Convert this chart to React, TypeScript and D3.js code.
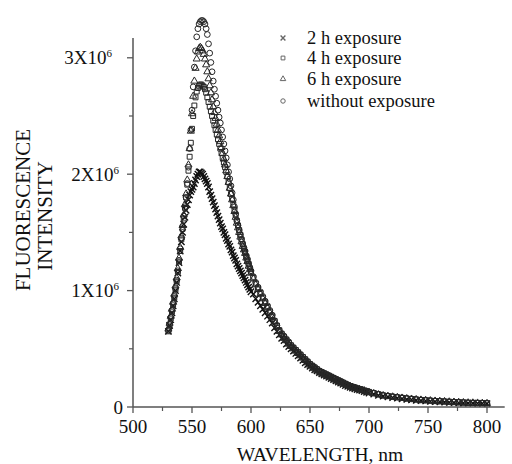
import React from "react";
import * as d3 from "d3";

// wavelength grid (nm): 1 nm steps to 600, 2 nm to 700, 4 nm to 800
const wavelengths: number[] = [
  ...d3.range(530, 601, 1),
  ...d3.range(602, 701, 2),
  ...d3.range(704, 801, 4),
];

// intensities in units of 10^6
const withoutExposure = [
  0.66, 0.71, 0.77, 0.83, 0.89, 0.95, 1.02, 1.09, 1.17, 1.26,
  1.36, 1.45, 1.55, 1.64, 1.72, 1.80, 1.92, 2.06, 2.22, 2.38,
  2.55, 2.75, 2.92, 3.06, 3.18, 3.25, 3.29, 3.31, 3.32, 3.32,
  3.31, 3.29, 3.25, 3.20, 3.12, 3.04, 2.96, 2.88, 2.80, 2.73,
  2.67, 2.61, 2.55, 2.49, 2.44, 2.38, 2.32, 2.26, 2.20, 2.14,
  2.08, 2.02, 1.96, 1.90, 1.84, 1.78, 1.72, 1.66, 1.60, 1.56,
  1.52, 1.48, 1.44, 1.40, 1.37, 1.34, 1.30, 1.27, 1.23, 1.20,
  1.17,
  1.12, 1.07, 1.03, 0.99, 0.95, 0.91, 0.87, 0.83, 0.79, 0.74,
  0.70, 0.66, 0.63, 0.61, 0.58, 0.56, 0.53, 0.51, 0.49, 0.47,
  0.45, 0.43, 0.41, 0.39, 0.37, 0.355, 0.34, 0.325, 0.31, 0.30,
  0.29, 0.28, 0.27, 0.26, 0.25, 0.24, 0.23, 0.22, 0.21, 0.20,
  0.19, 0.18, 0.175, 0.17, 0.16, 0.155, 0.15, 0.14, 0.135, 0.13,
  0.12, 0.11, 0.10, 0.095, 0.09, 0.085, 0.08, 0.075, 0.07, 0.065,
  0.06, 0.058, 0.055, 0.052, 0.05, 0.048, 0.045, 0.043, 0.04, 0.038,
  0.036, 0.035, 0.034, 0.033, 0.032,
];

const exposure6h = [
  0.67, 0.72, 0.78, 0.84, 0.90, 0.97, 1.04, 1.11, 1.19, 1.28,
  1.37, 1.47, 1.56, 1.65, 1.74, 1.83, 1.95, 2.08, 2.22, 2.37,
  2.52, 2.67, 2.80, 2.91, 2.99, 3.05, 3.08, 3.09, 3.08, 3.06,
  3.03, 2.99, 2.94, 2.88, 2.82, 2.76, 2.70, 2.64, 2.58, 2.53,
  2.48, 2.43, 2.38, 2.33, 2.28, 2.23, 2.18, 2.13, 2.08, 2.03,
  1.98, 1.93, 1.88, 1.83, 1.78, 1.73, 1.68, 1.63, 1.58, 1.54,
  1.50, 1.46, 1.42, 1.38, 1.35, 1.32, 1.28, 1.25, 1.21, 1.18,
  1.15,
  1.10, 1.05, 1.01, 0.97, 0.93, 0.89, 0.85, 0.81, 0.77, 0.73,
  0.69, 0.65, 0.62, 0.59, 0.57, 0.54, 0.52, 0.50, 0.48, 0.46,
  0.44, 0.42, 0.40, 0.38, 0.36, 0.345, 0.33, 0.315, 0.30, 0.29,
  0.28, 0.27, 0.26, 0.25, 0.24, 0.23, 0.22, 0.21, 0.20, 0.195,
  0.185, 0.175, 0.17, 0.16, 0.155, 0.15, 0.145, 0.14, 0.13, 0.125,
  0.115, 0.105, 0.098, 0.092, 0.087, 0.082, 0.077, 0.072, 0.068, 0.064,
  0.06, 0.057, 0.054, 0.051, 0.049, 0.047, 0.044, 0.042, 0.04, 0.038,
  0.036, 0.035, 0.034, 0.032, 0.031,
];

const exposure4h = [
  0.65, 0.70, 0.76, 0.82, 0.88, 0.94, 1.01, 1.08, 1.16, 1.25,
  1.34, 1.44, 1.53, 1.62, 1.71, 1.80, 1.91, 2.03, 2.15, 2.27,
  2.39, 2.50, 2.59, 2.66, 2.71, 2.74, 2.76, 2.77, 2.77, 2.76,
  2.75, 2.73, 2.70, 2.66, 2.62, 2.58, 2.54, 2.50, 2.46, 2.42,
  2.38, 2.34, 2.30, 2.26, 2.22, 2.18, 2.14, 2.10, 2.06, 2.02,
  1.98, 1.93, 1.88, 1.83, 1.79, 1.74, 1.69, 1.65, 1.60, 1.56,
  1.52, 1.48, 1.44, 1.40, 1.36, 1.33, 1.29, 1.26, 1.23, 1.19,
  1.16,
  1.11, 1.06, 1.02, 0.98, 0.94, 0.90, 0.86, 0.82, 0.78, 0.74,
  0.70, 0.66, 0.63, 0.60, 0.58, 0.55, 0.53, 0.51, 0.49, 0.47,
  0.45, 0.43, 0.41, 0.39, 0.37, 0.355, 0.34, 0.325, 0.31, 0.30,
  0.29, 0.28, 0.27, 0.26, 0.25, 0.24, 0.23, 0.22, 0.21, 0.20,
  0.19, 0.18, 0.17, 0.165, 0.16, 0.15, 0.145, 0.14, 0.135, 0.13,
  0.12, 0.11, 0.10, 0.094, 0.088, 0.083, 0.078, 0.073, 0.069, 0.065,
  0.061, 0.058, 0.055, 0.052, 0.05, 0.047, 0.045, 0.043, 0.041, 0.039,
  0.037, 0.036, 0.035, 0.034, 0.033,
];

const exposure2h = [
  0.65, 0.70, 0.75, 0.81, 0.87, 0.93, 1.00, 1.07, 1.15, 1.24,
  1.34, 1.42, 1.50, 1.57, 1.63, 1.69, 1.74, 1.78, 1.82, 1.85,
  1.87, 1.89, 1.92, 1.95, 1.98, 2.00, 2.02, 2.02, 2.01, 2.00,
  1.98, 1.96, 1.94, 1.92, 1.89, 1.85, 1.82, 1.79, 1.76, 1.73,
  1.70, 1.67, 1.64, 1.61, 1.58, 1.55, 1.53, 1.50, 1.48, 1.45,
  1.43, 1.40, 1.38, 1.35, 1.33, 1.30, 1.28, 1.26, 1.23, 1.21,
  1.19, 1.17, 1.15, 1.13, 1.11, 1.09, 1.07, 1.05, 1.03, 1.01,
  0.99,
  0.97, 0.93, 0.90, 0.87, 0.84, 0.81, 0.78, 0.75, 0.72, 0.68,
  0.65, 0.62, 0.59, 0.57, 0.54, 0.52, 0.50, 0.48, 0.46, 0.44,
  0.42, 0.40, 0.38, 0.365, 0.35, 0.335, 0.32, 0.31, 0.295, 0.285,
  0.275, 0.265, 0.255, 0.245, 0.235, 0.225, 0.215, 0.205, 0.195, 0.185,
  0.178, 0.17, 0.163, 0.157, 0.15, 0.145, 0.14, 0.133, 0.127, 0.12,
  0.11, 0.10, 0.093, 0.087, 0.081, 0.076, 0.071, 0.066, 0.062, 0.058,
  0.055, 0.052, 0.049, 0.046, 0.044, 0.042, 0.04, 0.038, 0.036, 0.034,
  0.033, 0.032, 0.031, 0.03, 0.029,
];

const seriesNames = ["2 h exposure", "4 h exposure", "6 h exposure", "without exposure"];
const xTicks = [500, 550, 600, 650, 700, 750, 800];
const xMinorTicks = [525, 575, 625, 675, 725, 775];
const yTicks = [0, 1, 2, 3];
const yMinorTicks = [0.5, 1.5, 2.5];
const yTickLabels = ["0", "1X10", "2X10", "3X10"];

const W = 512;
const H = 464;
const FONT = '"Liberation Serif", "DejaVu Serif", serif';
const txt: React.CSSProperties = { fontFamily: FONT };

export default function App() {
  const x = d3.scaleLinear().domain([500, 815]).range([133, 504.7]);
  const y = d3.scaleLinear().domain([0, 3.17]).range([407, 38]);

  const symbols = [d3.symbolX, d3.symbolSquare, d3.symbolTriangle, d3.symbolCircle];
  const sizes = [28, 24, 22, 26];
  const values = [exposure2h, exposure4h, exposure6h, withoutExposure];
  const strokes = ["#111", "#262626", "#262626", "#262626"];
  const widths = [1.4, 1.0, 1.0, 1.0];
  const labelX = [123, 119, 119, 112];

  const axisColor = "#555";

  return (
    <svg
      width={W}
      height={H}
      style={{ position: "absolute", left: 0, top: 0, background: "white" }}
    >
      <rect width={W} height={H} fill="white" />

      {/* data markers */}
      {values.map((vals, si) => {
        const path = d3.symbol().type(symbols[si]).size(sizes[si])() as string;
        return (
          <g key={si} fill="none" stroke={strokes[si]} strokeWidth={widths[si]}>
            {vals.map((v, i) => (
              <path
                key={i}
                d={path}
                transform={`translate(${x(wavelengths[i])},${y(v)})`}
              />
            ))}
          </g>
        );
      })}

      {/* axes */}
      <line x1={x(500)} x2={x(815)} y1={y(0)} y2={y(0)} stroke={axisColor} strokeWidth={1.5} />
      <line x1={x(500)} x2={x(500)} y1={y(0)} y2={y(3.17)} stroke={axisColor} strokeWidth={1.5} />

      {xTicks.map((t) => (
        <g key={t}>
          <line x1={x(t)} x2={x(t)} y1={y(0)} y2={y(0) + 6} stroke={axisColor} strokeWidth={1.3} />
          <text x={x(t)} y={433} textAnchor="middle" fontSize={19} fill="#111" style={txt}>
            {t}
          </text>
        </g>
      ))}
      {xMinorTicks.map((t) => (
        <line key={t} x1={x(t)} x2={x(t)} y1={y(0)} y2={y(0) + 4} stroke={axisColor} strokeWidth={1.2} />
      ))}

      {yTicks.map((t, i) => (
        <g key={t}>
          <line x1={x(500) - 6} x2={x(500)} y1={y(t)} y2={y(t)} stroke={axisColor} strokeWidth={1.3} />
          <text x={labelX[i]} y={y(t)} dy="0.35em" textAnchor="end" fontSize={19} fill="#111" style={txt}>
            {t === 0 ? (
              yTickLabels[i]
            ) : (
              <>
                <tspan>{yTickLabels[i]}</tspan>
                <tspan dy={-7} fontSize={11}>6</tspan>
              </>
            )}
          </text>
        </g>
      ))}
      {yMinorTicks.map((t) => (
        <line key={t} x1={x(500) - 4} x2={x(500)} y1={y(t)} y2={y(t)} stroke={axisColor} strokeWidth={1.2} />
      ))}

      {/* axis titles */}
      <text x={320} y={461} textAnchor="middle" fontSize={19.5} fill="#111" style={txt}>
        WAVELENGTH, nm
      </text>
      <text
        transform={`translate(30,210) rotate(-90)`}
        textAnchor="middle"
        fontSize={21}
        fill="#111"
        style={txt}
      >
        FLUORESCENCE
      </text>
      <text
        transform={`translate(52,216) rotate(-90)`}
        textAnchor="middle"
        fontSize={21}
        fill="#111"
        style={txt}
      >
        INTENSITY
      </text>

      {/* legend */}
      {seriesNames.map((name, i) => {
        const cy = [38, 58, 79, 101][i];
        const path = d3.symbol().type(symbols[i]).size(sizes[i] * 0.6)() as string;
        return (
          <g key={name}>
            <path
              d={path}
              transform={`translate(283,${cy})`}
              fill="none"
              stroke="#666"
              strokeWidth={widths[i]}
            />
            <text x={307} y={cy} dy="0.35em" fontSize={18.5} fill="#111" style={txt}>
              {name}
            </text>
          </g>
        );
      })}
    </svg>
  );
}
